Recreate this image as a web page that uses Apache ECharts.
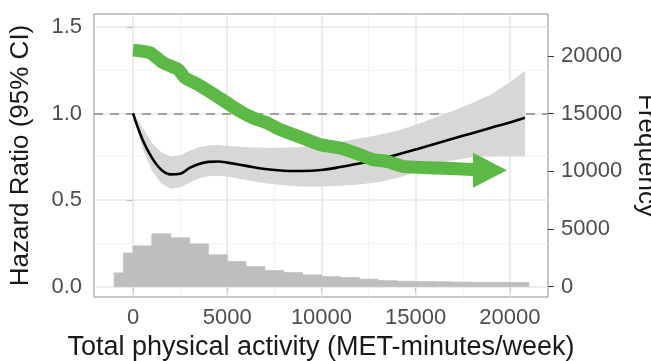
<!DOCTYPE html>
<html>
<head>
<meta charset="utf-8">
<script src="https://cdn.jsdelivr.net/npm/echarts@6/dist/echarts.min.js"></script>
<style>
  html, body { margin: 0; padding: 0; background: #fff; }
  #chart { width: 651px; height: 361px; }
</style>
</head>
<body>
<div id="chart"></div>
<script>
// axis ticks
var xTicks = [0, 5000, 10000, 15000, 20000];
var xMinor = [2500, 7500, 12500, 17500];
var hrTicks = [0, 0.5, 1.0, 1.5];
var hrMinor = [0.25, 0.75, 1.25];
var freqTicks = [0, 5000, 10000, 15000, 20000];

// histogram of physical activity (bin edges + counts)
var histEdges = [-1000, -500, 0, 1000, 2000, 3000, 4000, 5000, 6000, 7000, 8000, 9000,
  10000, 11000, 12000, 13000, 14000, 15000, 16000, 17000, 18000, 19000, 20000, 21000];
var histCounts = [1170, 2900, 3520, 4560, 4220, 3680, 2740, 2160, 1720, 1370, 1200, 1000,
  850, 770, 630, 500, 450, 420, 400, 380, 360, 350, 340];

// spline hazard ratio with 95% CI
var splineX = [0, 500, 1000, 1500, 2000, 2500, 3000, 3500, 4000, 4500, 5000, 6000, 7000,
  8000, 9000, 10000, 11000, 12000, 13000, 14000, 15000, 16000, 17000, 18000, 19000, 20000, 20800];
var splineHR = [1.0, 0.85, 0.745, 0.675, 0.648, 0.652, 0.685, 0.708, 0.72, 0.722, 0.716, 0.697, 0.679,
  0.669, 0.667, 0.673, 0.69, 0.711, 0.734, 0.762, 0.792, 0.823, 0.855, 0.886, 0.917, 0.948, 0.975];
var ciLower = [1.0, 0.80, 0.67, 0.595, 0.565, 0.572, 0.6, 0.625, 0.637, 0.64, 0.635, 0.615, 0.597,
  0.585, 0.578, 0.578, 0.582, 0.59, 0.603, 0.625, 0.66, 0.7, 0.73, 0.748, 0.752, 0.752, 0.752];
var ciUpper = [1.0, 0.92, 0.83, 0.775, 0.752, 0.758, 0.785, 0.805, 0.815, 0.818, 0.812, 0.806, 0.802,
  0.802, 0.808, 0.818, 0.835, 0.855, 0.875, 0.9, 0.935, 0.975, 1.015, 1.06, 1.11, 1.18, 1.245];

// green annotation arrow
var arrowX = [0, 900, 1600, 2400, 2760, 3460, 4440, 5680, 6380, 7090, 7800, 9220, 9920,
  10980, 12040, 12730, 13460, 14340, 16110, 18300];
var arrowHR = [1.366, 1.351, 1.293, 1.254, 1.206, 1.167, 1.100, 1.013, 0.974, 0.946, 0.907, 0.849, 0.820,
  0.80, 0.762, 0.733, 0.723, 0.694, 0.685, 0.674];
var arrowHead = [18940, 0.672];

var font = "'Liberation Sans', Arial, sans-serif";
var tickColor = "#4d4d4d";
var green = "#5cb946";

var chart = echarts.init(document.getElementById("chart"));

var histData = histCounts.map(function (c, i) {
  return [histEdges[i], histEdges[i + 1], c];
});
var bandData = splineX.map(function (x, i) {
  return [x, ciLower[i], ciUpper[i]];
});

var gridLines = [];
xTicks.forEach(function (v) {
  gridLines.push({ xAxis: v, lineStyle: { color: "#e6e6e6", width: 1.6, type: "solid" } });
});
xMinor.forEach(function (v) {
  gridLines.push({ xAxis: v, lineStyle: { color: "#f0f0f0", width: 0.8, type: "solid" } });
});
hrTicks.forEach(function (v) {
  gridLines.push({ yAxis: v, lineStyle: { color: "#e6e6e6", width: 1.6, type: "solid" } });
});
hrMinor.forEach(function (v) {
  gridLines.push({ yAxis: v, lineStyle: { color: "#f0f0f0", width: 0.8, type: "solid" } });
});

function plain(v) { return String(v); }

var option = {
  animation: false,
  backgroundColor: "#fff",
  grid: {
    left: 94,
    top: 14,
    width: 454,
    height: 283,
    containLabel: false,
    outerBoundsMode: "none",
    show: true,
    borderColor: "#8c8c8c",
    borderWidth: 1,
    backgroundColor: "#fff",
  },
  xAxis: {
    type: "value",
    min: -2070,
    max: 22020,
    name: "Total physical activity (MET-minutes/week)",
    nameLocation: "middle",
    nameGap: 35,
    nameTextStyle: { fontFamily: font, fontSize: 27, color: "#1a1a1a" },
    axisLine: { show: false },
    splitLine: { show: false },
    axisTick: { customValues: xTicks, length: 6, lineStyle: { color: "#333" } },
    axisLabel: { customValues: xTicks, margin: 10, fontFamily: font, fontSize: 22, color: tickColor, formatter: plain },
  },
  yAxis: [
    {
      type: "value",
      min: -0.061,
      max: 1.575,
      name: "Hazard Ratio (95% CI)",
      nameLocation: "middle",
      nameGap: 60,
      nameTextStyle: { fontFamily: font, fontSize: 26, color: "#1a1a1a" },
      axisLine: { show: false },
      splitLine: { show: false },
      axisTick: { customValues: hrTicks, length: 6, lineStyle: { color: "#333" } },
      axisLabel: {
        customValues: hrTicks,
        margin: 12,
        fontFamily: font,
        fontSize: 22,
        color: tickColor,
        formatter: function (v) { return v.toFixed(1); },
      },
    },
    {
      type: "value",
      position: "right",
      min: -915,
      max: 23625,
      name: "Frequency",
      nameLocation: "middle",
      nameRotate: -90,
      nameGap: 66,
      nameTextStyle: { fontFamily: font, fontSize: 26, color: "#1a1a1a" },
      axisLine: { show: false },
      splitLine: { show: false },
      axisTick: { customValues: freqTicks, length: 6, lineStyle: { color: "#333" } },
      axisLabel: { customValues: freqTicks, margin: 13, fontFamily: font, fontSize: 22, color: tickColor, formatter: plain },
    },
  ],
  series: [
    {
      // panel grid lines
      type: "line",
      data: [],
      z: 1,
      silent: true,
      markLine: {
        silent: true,
        z: 1,
        symbol: "none",
        label: { show: false },
        data: gridLines,
      },
    },
    {
      type: "custom",
      yAxisIndex: 1,
      z: 2,
      silent: true,
      encode: { x: [0, 1], y: 2 },
      data: histData,
      renderItem: function (params, api) {
        var p0 = api.coord([api.value(0), api.value(2)]);
        var p1 = api.coord([api.value(1), 0]);
        return {
          type: "rect",
          shape: { x: p0[0], y: p0[1], width: p1[0] - p0[0], height: p1[1] - p0[1] },
          style: { fill: "#bebebe", stroke: "#bebebe", lineWidth: 0.8 },
        };
      },
    },
    {
      type: "custom",
      z: 3,
      silent: true,
      encode: { x: 0, y: [1, 2] },
      data: bandData,
      renderItem: function (params, api) {
        if (params.dataIndex !== 0) return null;
        var pts = [];
        bandData.forEach(function (d) { pts.push(api.coord([d[0], d[2]])); });
        for (var i = bandData.length - 1; i >= 0; i--) {
          pts.push(api.coord([bandData[i][0], bandData[i][1]]));
        }
        return {
          type: "polygon",
          shape: { points: pts, smooth: 0 },
          style: { fill: "#d7d7d7" },
        };
      },
    },
    {
      type: "line",
      z: 4,
      silent: true,
      data: splineX.map(function (x, i) { return [x, splineHR[i]]; }),
      smooth: 0.4,
      showSymbol: false,
      lineStyle: { color: "#000", width: 2.6 },
      markLine: {
        silent: true,
        z: 3,
        symbol: "none",
        label: { show: false },
        data: [{ yAxis: 1.0 }],
        lineStyle: { color: "#8a8a8a", width: 1.6, type: [9, 7] },
      },
    },
    {
      type: "line",
      z: 6,
      silent: true,
      data: arrowX.map(function (x, i) { return [x, arrowHR[i]]; }),
      smooth: 0.2,
      showSymbol: false,
      lineStyle: { color: green, width: 13, cap: "butt", join: "round" },
    },
    {
      type: "scatter",
      z: 6,
      silent: true,
      data: [arrowHead],
      symbol: "triangle",
      symbolRotate: -90,
      symbolSize: [35, 34],
      itemStyle: { color: green, opacity: 1 },
    },
  ],
};

chart.setOption(option);
</script>
</body>
</html>
